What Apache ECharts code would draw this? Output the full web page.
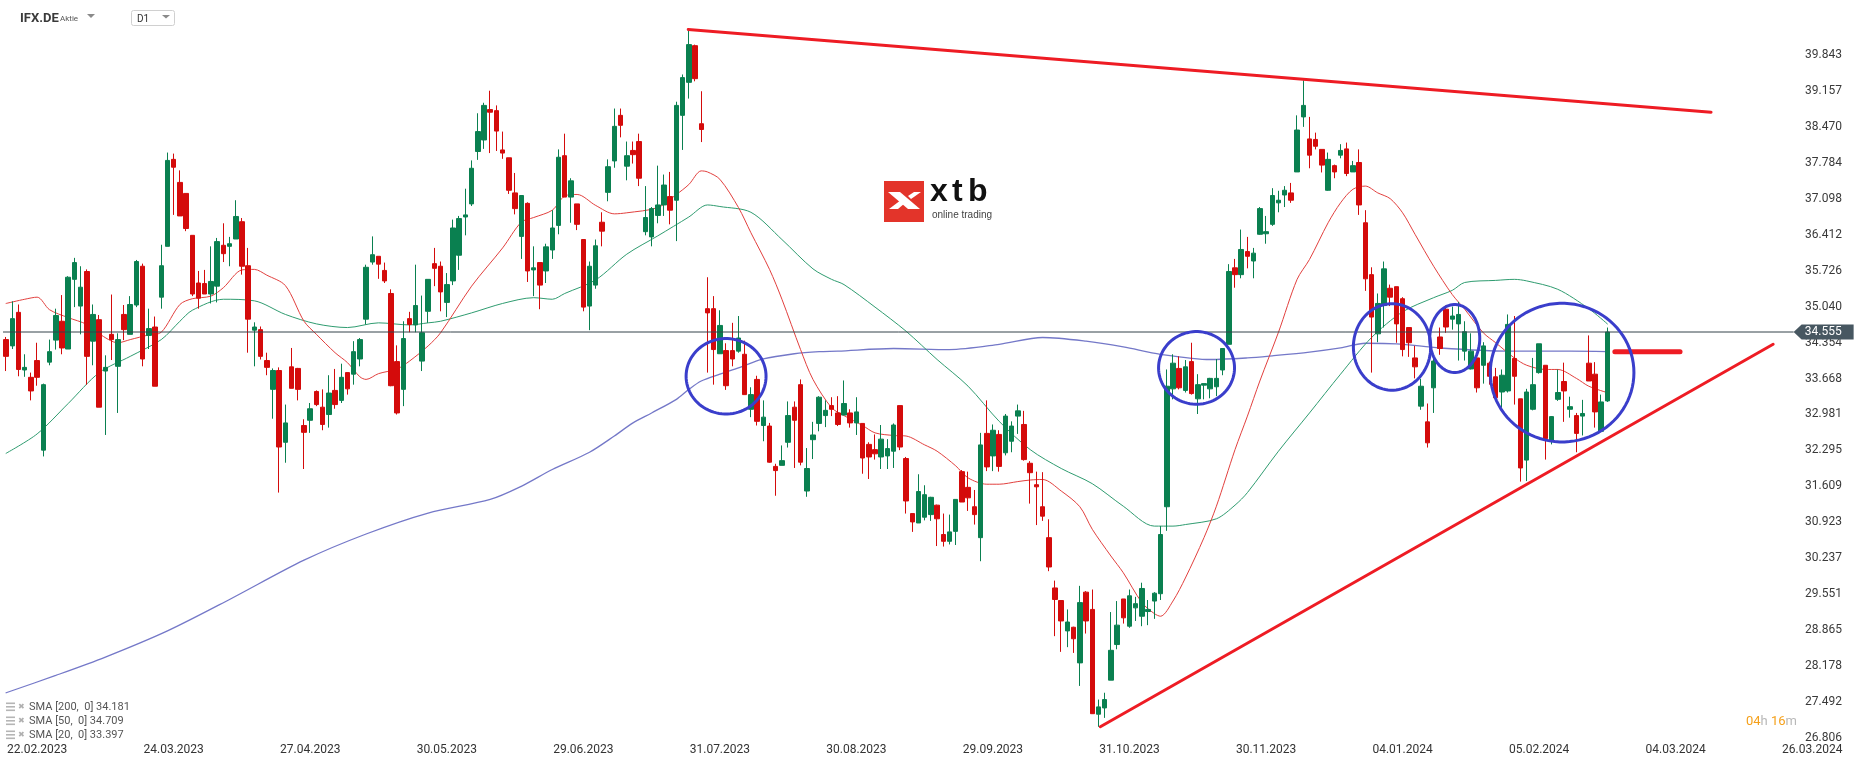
<!DOCTYPE html>
<html><head><meta charset="utf-8">
<script src="https://cdn.jsdelivr.net/npm/echarts@6/dist/echarts.min.js"></script>
<style>html,body{margin:0;padding:0;background:#fff}#c{width:1866px;height:767px}</style>
</head><body><div id="c"></div><script>
// ---------- DATA ----------
const symbolName = 'IFX.DE';
const startDate = '2023-02-15';
const holidays = ['2023-04-07','2023-04-10','2023-05-01','2023-12-25','2023-12-26','2024-01-01'];
const futureTicks = ['04.03.2024','26.03.2024'];
// [open, close, low, high]
const candles = [
[34.41,34.09,33.81,34.46],[34.29,34.81,34.23,35.14],[34.93,33.84,33.71,35.08],[33.83,33.88,33.70,34.13],[33.69,33.43,33.25,33.78],
[34.01,33.69,33.53,34.35],[32.30,33.55,32.18,33.57],[33.98,34.18,33.92,34.41],[34.40,34.87,34.22,35.00],[34.76,34.25,34.13,35.26],
[34.23,35.60,34.23,35.62],[35.56,35.88,35.03,35.97],[35.05,35.41,34.51,35.81],[35.71,34.09,33.55,35.75],[34.38,34.89,33.92,35.08],
[34.79,33.12,33.12,34.88],[33.81,33.88,32.59,34.11],[34.51,34.41,34.02,35.27],[33.90,34.41,33.01,34.53],[34.89,34.60,34.40,35.07],
[34.51,35.08,34.51,35.24],[35.07,35.90,35.03,35.93],[35.81,34.04,33.90,35.86],[34.49,34.62,34.23,35.00],[34.65,33.52,33.52,34.85],
[35.22,35.82,35.00,36.22],[36.19,37.83,36.19,37.98],[37.85,37.70,36.79,37.96],[37.41,36.77,36.77,37.64],[37.20,36.53,36.48,37.20],
[36.40,35.28,35.24,36.40],[35.49,35.20,35.00,35.72],[35.48,35.28,35.28,35.74],[35.28,35.52,35.10,36.19],[35.43,36.28,35.12,36.35],
[36.21,36.05,35.89,36.63],[36.19,36.24,35.81,36.37],[36.33,36.76,36.33,37.07],[36.66,35.81,35.65,36.73],[35.82,34.80,34.16,36.16],
[34.59,34.65,33.90,34.74],[34.60,34.09,34.03,34.66],[34.01,33.88,33.73,34.16],[33.46,33.82,32.90,33.86],[33.82,32.36,31.49,33.88],
[32.45,32.82,32.06,33.17],[33.89,33.48,33.48,34.25],[33.86,33.46,33.25,33.87],[32.77,32.64,31.94,32.89],[32.87,33.09,32.63,33.20],
[33.42,33.17,33.14,33.44],[33.12,32.79,32.68,33.46],[32.98,33.39,32.73,33.73],[33.44,33.17,33.09,33.85],[33.25,33.69,33.20,33.95],
[33.78,33.47,33.36,33.78],[33.75,34.18,33.55,34.38],[34.04,34.41,33.90,34.44],[34.80,35.79,34.70,35.84],[35.89,36.03,35.84,36.38],
[36.00,35.85,35.57,36.00],[35.73,35.53,35.49,35.88],[35.29,33.53,33.52,35.37],[33.99,33.01,32.98,34.30],[33.46,34.43,33.14,34.76],
[34.81,34.70,34.55,34.94],[34.69,35.06,34.55,35.84],[34.00,34.54,33.81,35.25],[34.95,35.56,34.73,35.56],[35.86,35.77,35.43,36.16],
[35.81,35.32,34.95,35.90],[35.12,35.46,34.84,35.68],[35.53,36.54,35.45,36.70],[36.02,36.72,35.74,36.77],[36.75,36.79,36.40,37.29],
[37.00,37.68,36.96,37.83],[38.00,38.38,37.84,38.73],[38.22,38.88,38.05,38.93],[38.80,38.75,37.97,39.16],[38.78,38.39,38.01,38.88],
[38.03,37.97,37.86,38.38],[37.88,37.26,37.19,37.88],[37.21,36.91,36.80,37.59],[36.38,37.16,35.95,37.16],[37.01,35.72,35.51,37.03],
[35.74,35.78,35.24,36.19],[35.88,35.45,34.99,35.88],[35.72,36.18,35.49,36.24],[36.12,36.54,35.95,36.88],[36.59,37.89,36.42,38.04],
[37.92,37.13,37.13,38.34],[37.13,37.44,36.64,37.49],[37.00,36.61,36.50,37.00],[36.32,35.03,34.95,36.32],[35.05,35.81,34.59,35.90],
[35.45,36.20,35.38,36.32],[36.65,36.48,36.19,36.84],[37.22,37.71,37.05,37.85],[37.82,38.48,37.69,38.82],[38.69,38.50,38.27,38.82],
[37.72,37.92,37.45,38.19],[38.02,37.94,37.77,38.19],[38.19,37.49,37.34,38.34],[36.47,36.74,36.40,37.34],[36.37,36.91,36.19,36.94],
[36.78,36.98,36.63,37.73],[36.98,37.36,36.77,37.56],[37.14,36.88,36.61,37.61],[37.07,38.88,36.29,38.95],[38.69,39.41,38.03,39.47],
[39.32,40.04,39.01,40.33],[40.02,39.39,39.34,40.04],[38.53,38.42,38.18,39.15],[35.00,34.92,33.78,35.60],[35.00,34.22,33.55,35.24],
[34.14,34.68,34.14,34.97],[34.20,33.53,33.45,34.34],[34.20,34.04,33.90,34.73],[34.19,34.44,34.16,34.86],[34.13,33.36,33.36,34.39],
[33.08,33.36,32.93,33.50],[33.65,32.85,32.77,33.72],[32.77,32.93,32.47,33.25],[32.76,32.07,32.06,32.82],[31.99,31.91,31.43,32.04],
[32.01,32.10,32.01,32.39],[32.45,32.96,32.35,33.23],[33.12,32.87,31.96,33.23],[33.55,32.07,32.01,33.65],[31.52,31.95,31.41,32.34],
[32.50,32.59,32.13,32.84],[32.81,33.31,32.66,33.33],[32.96,33.06,32.74,33.25],[33.15,33.08,32.95,33.31],[33.01,32.79,32.76,33.33],
[32.97,33.19,32.97,33.63],[33.01,32.82,32.73,33.08],[32.82,33.03,32.59,33.31],[32.81,32.15,31.85,32.81],[32.41,32.17,31.75,32.45],
[32.31,32.23,32.12,32.60],[32.17,32.51,31.94,32.78],[32.19,32.33,31.94,32.51],[32.28,32.78,31.96,32.81],[33.15,32.36,32.30,33.15],
[32.14,31.33,31.09,32.17],[31.09,30.93,30.74,31.09],[30.91,31.51,30.91,31.84],[31.02,31.45,30.96,31.63],[31.07,31.40,30.95,31.41],
[31.25,30.99,30.47,31.26],[30.69,30.56,30.46,31.09],[30.56,30.74,30.50,31.07],[30.75,31.36,30.49,31.36],[31.89,31.31,31.31,31.92],
[31.59,31.39,31.14,31.89],[31.22,31.07,30.88,31.54],[30.63,32.40,30.18,32.63],[32.62,31.98,31.90,33.25],[32.19,32.68,31.90,32.79],
[32.60,31.99,31.89,32.68],[32.25,32.95,32.20,32.99],[32.47,32.76,32.26,32.85],[32.95,33.05,32.61,33.17],[32.79,32.12,32.10,33.05],
[32.05,31.87,31.28,32.09],[31.64,31.60,30.87,31.89],[31.22,31.04,30.95,31.88],[30.63,30.07,29.99,30.98],[29.67,29.45,28.75,29.81],
[29.43,29.04,28.45,29.43],[28.85,29.02,28.54,29.26],[28.92,28.70,28.43,28.93],[28.24,29.39,27.80,29.71],[29.59,29.04,28.80,29.61],
[29.26,27.27,27.27,29.64],[27.26,27.40,27.02,27.54],[27.38,27.54,27.19,27.67],[27.91,28.48,27.91,29.21],[28.59,28.96,28.50,29.42],
[29.46,29.10,28.99,29.46],[28.94,29.52,28.91,29.64],[29.29,29.37,29.04,29.50],[29.13,29.66,28.94,29.77],[29.22,29.26,28.96,29.44],
[29.42,29.57,29.08,29.59],[29.56,30.69,29.44,30.85],[31.22,33.52,30.76,33.84],[33.47,33.96,33.27,34.13],[33.86,33.49,33.46,34.09],
[33.44,33.89,33.40,34.02],[33.99,33.38,33.36,34.35],[33.28,33.55,32.99,33.75],[33.54,33.57,33.27,33.57],[33.47,33.67,33.29,33.68],
[33.51,33.67,33.33,34.04],[33.83,34.24,33.73,34.24],[34.32,35.71,34.32,35.85],[35.78,35.65,35.40,35.95],[35.65,36.13,35.58,36.51],
[36.09,36.00,35.77,36.37],[35.91,36.06,35.58,36.16],[36.42,36.91,36.41,36.94],[36.43,36.47,36.24,36.77],[36.61,37.16,36.58,37.30],
[37.02,37.07,36.84,37.25],[37.17,37.26,36.94,37.34],[37.21,37.07,37.02,37.40],[37.61,38.41,37.61,38.69],[38.66,38.88,38.47,39.36],
[38.24,37.93,37.68,38.66],[38.23,38.10,38.04,38.36],[38.04,37.74,37.60,38.04],[37.26,37.85,37.25,37.98],[37.73,37.61,37.49,37.75],
[37.93,38.02,37.87,38.14],[38.05,37.58,37.53,38.17],[37.61,37.73,37.61,37.82],[37.79,36.98,36.79,38.04],[36.64,35.57,35.34,36.88],
[35.65,34.84,33.78,35.79],[34.52,35.10,34.36,35.29],[35.06,35.76,34.64,35.90],[35.39,35.22,35.05,35.46],[35.42,34.71,34.35,35.42],
[35.19,34.22,34.09,35.22],[34.64,34.35,34.08,34.64],[34.06,33.89,33.67,34.29],[33.14,33.52,33.07,33.66],[32.84,32.44,32.35,33.19],
[33.49,34.00,33.01,34.10],[34.46,34.24,34.12,34.64],[34.99,34.65,34.54,35.06],[34.80,34.86,34.60,35.04],[34.71,34.89,34.01,35.13],
[34.19,34.56,34.01,34.76],[33.85,34.19,33.84,34.53],[34.06,33.49,33.40,34.06],[33.92,34.29,33.57,34.36],[33.96,33.71,33.55,33.99],
[33.70,33.30,33.27,33.87],[33.41,33.73,33.11,33.84],[33.43,34.70,33.40,34.89],[34.05,33.71,33.17,34.86],[33.28,31.96,31.70,33.28],
[32.11,33.41,31.71,33.47],[33.08,33.55,33.06,34.06],[33.78,34.33,33.76,34.33],[33.92,32.52,32.12,33.92],[32.49,32.94,32.41,32.95],
[33.27,33.40,33.24,33.84],[33.61,33.43,32.84,33.97],[33.08,33.13,32.92,33.32],[32.96,32.62,32.26,33.01],[32.95,33.00,32.58,33.26],
[33.96,33.62,33.62,34.49],[33.75,33.03,32.73,33.98],[32.66,33.22,32.66,33.36],[33.24,34.555,33.22,34.64]
];
// moving averages: [bar index, value]
const sma20 = [[0,35.10],[3,35.18],[5,35.22],[7,34.98],[10,34.83],[13,34.70],[15,34.52],[18,34.35],[20,34.41],[23,34.50],[25,34.55],[28,35.08],[30,35.19],[33,35.24],[35,35.40],[38,35.74],[40,35.75],[42,35.64],[45,35.44],[48,34.76],[50,34.51],[53,34.16],[55,33.97],[57,33.70],[58,33.65],[60,33.76],[63,33.85],[65,34.00],[68,34.29],[70,34.54],[75,35.43],[80,36.16],[83,36.65],[85,36.74],[88,36.88],[90,37.15],[92,37.18],[95,36.97],[98,36.81],[100,36.83],[105,36.93],[108,37.18],[110,37.37],[112,37.63],[113,37.61],[115,37.47],[118,36.93],[120,36.45],[123,35.75],[125,35.18],[128,34.22],[130,33.65],[133,33.11],[135,32.96],[138,32.77],[140,32.63],[143,32.58],[145,32.57],[148,32.40],[150,32.28],[153,32.00],[155,31.77],[158,31.65],[160,31.65],[163,31.70],[165,31.73],[167,31.74],[170,31.52],[173,31.22],[175,30.79],[178,30.28],[180,29.96],[183,29.39],[185,29.18],[186,29.13],[188,29.42],[190,29.86],[193,30.63],[195,31.23],[198,32.31],[200,32.95],[202,33.62],[205,34.55],[208,35.56],[210,35.94],[213,36.64],[215,37.02],[217,37.28],[219,37.34],[221,37.21],[223,37.10],[225,36.83],[227,36.42],[230,35.81],[233,35.27],[235,34.99],[238,34.54],[240,34.35],[243,34.06],[245,33.92],[248,33.84],[250,33.84],[253,33.67],[255,33.52],[258,33.397]];
const sma50 = [[0,32.24],[5,32.61],[10,33.19],[15,33.78],[20,34.09],[25,34.41],[28,34.76],[30,34.97],[35,35.18],[40,35.15],[45,34.89],[50,34.71],[55,34.64],[60,34.73],[65,34.69],[68,34.73],[70,34.76],[75,34.92],[80,35.10],[85,35.21],[88,35.18],[90,35.29],[95,35.55],[100,36.04],[105,36.39],[110,36.75],[113,36.98],[115,36.95],[120,36.84],[125,36.32],[130,35.76],[133,35.56],[135,35.46],[140,35.03],[145,34.57],[150,34.03],[155,33.52],[160,32.85],[165,32.31],[170,31.95],[175,31.66],[180,31.23],[185,30.85],[188,30.85],[190,30.88],[195,30.99],[198,31.25],[200,31.49],[205,32.28],[210,33.01],[215,33.75],[220,34.45],[225,34.94],[230,35.21],[233,35.35],[235,35.50],[240,35.54],[243,35.56],[245,35.53],[250,35.37],[255,35.00],[258,34.709]];
const sma200 = [[0,27.67],[8,28.00],[16,28.35],[26,28.85],[36,29.45],[48,30.20],[58,30.70],[68,31.10],[78,31.36],[83,31.61],[88,31.93],[94,32.26],[98,32.57],[101,32.82],[104,33.01],[108,33.27],[110,33.46],[112,33.62],[115,33.75],[118,33.87],[122,34.04],[127,34.14],[131,34.18],[134,34.19],[143,34.24],[152,34.22],[160,34.32],[167,34.45],[174,34.38],[180,34.27],[186,34.13],[194,34.03],[200,34.06],[204,34.10],[210,34.17],[215,34.25],[219,34.34],[224,34.33],[231,34.25],[242,34.19],[252,34.19],[258,34.181]];
const smaLegend = ['SMA [200,  0] 34.181','SMA [50,  0] 34.709','SMA [20,  0] 33.397'];
const lastPrice = 34.555;
// drawn annotations, in [bar index, price]
const resistanceLine = [[109.9,40.33],[274.7,38.75]];
const supportLine = [[176.3,27.02],[284.7,34.32]];
const levelLine = [[259.2,34.18],[269.7,34.18]];
// ellipses: [center bar, center price, radius bars, radius price]
const circles = [[116.0,33.71,6.44,0.72],[191.8,33.87,6.12,0.693],[223.3,34.27,6.23,0.825],[233.4,34.43,4.03,0.649],[250.7,33.78,11.57,1.323]];
// y-axis ticks
const yTickStart = 26.80618, yTickStep = 0.686135, yTickCount = 20;

// ---------- BUILD ----------
const N_SLOTS = 300, LABEL_FIRST = 5, LABEL_STEP = 22;
function tradingDays(start, n) {
  const out = []; const d = new Date(start + 'T12:00:00Z');
  while (out.length < n) {
    const dow = d.getUTCDay(); const iso = d.toISOString().slice(0, 10);
    if (dow !== 0 && dow !== 6 && holidays.indexOf(iso) < 0)
      out.push(iso.slice(8, 10) + '.' + iso.slice(5, 7) + '.' + iso.slice(0, 4));
    d.setUTCDate(d.getUTCDate() + 1);
  }
  return out;
}
const realDates = tradingDays(startDate, candles.length);
const categories = []; let ft = 0;
for (let i = 0; i < N_SLOTS; i++) {
  if (i < realDates.length) categories.push(realDates[i]);
  else if ((i - LABEL_FIRST) % LABEL_STEP === 0 && ft < futureTicks.length) categories.push(futureTicks[ft++]);
  else categories.push('slot' + i);
}
const priceLineEnd = 288;
const GREEN = '#0a8050', RED = '#d40b0b', TREND = '#ee1c24';
const FONT = 'Roboto, "Noto Sans", sans-serif';
const LOGO_FONT = '"Liberation Sans", Arial, sans-serif';

const chart = echarts.init(document.getElementById('c'), null, {renderer: 'canvas'});
function legendGraphic() {
  const els = [];
  const ys = [707, 721, 735];
  smaLegend.forEach((t, k) => {
    const y = ys[k];
    for (let j = 0; j < 3; j++) els.push({type: 'rect', shape: {x: 6, y: y - 4.5 + j * 3.5, width: 9, height: 1.6}, style: {fill: '#b5b5b5'}});
    els.push({type: 'text', style: {text: '✖', x: 18, y: y, fontSize: 8, fill: '#b0b0b0', verticalAlign: 'middle', fontFamily: 'DejaVu Sans'}});
    els.push({type: 'text', style: {text: t, x: 29, y: y, fontSize: 11, fill: '#555', verticalAlign: 'middle', fontFamily: FONT}});
  });
  return els;
}
const graphic = [
  {type: 'text', style: {text: symbolName, x: 20, y: 19, fontSize: 13, fontWeight: 'bold', fill: '#3a3a3a', verticalAlign: 'middle', fontFamily: FONT}},
  {type: 'text', style: {text: 'Aktie', x: 60, y: 19, fontSize: 8, fill: '#555', verticalAlign: 'middle', fontFamily: FONT}},
  {type: 'polygon', shape: {points: [[87, 14], [95, 14], [91, 18]]}, style: {fill: '#8a8a8a'}},
  {type: 'rect', shape: {x: 131.5, y: 10.5, width: 43, height: 15, r: 2}, style: {fill: '#fff', stroke: '#d0d0d0', lineWidth: 1}},
  {type: 'text', style: {text: 'D1', x: 137, y: 19, fontSize: 10, fill: '#333', verticalAlign: 'middle', fontFamily: FONT}},
  {type: 'polygon', shape: {points: [[162, 15], [170, 15], [166, 18.5]]}, style: {fill: '#8a8a8a'}},
  // logo
  {type: 'rect', shape: {x: 884, y: 181, width: 40, height: 41}, style: {fill: '#e3342a'}},
  {type: 'polygon', shape: {points: [[888, 192], [900, 192], [920, 209], [908, 209]]}, style: {fill: '#fff'}},
  {type: 'polygon', shape: {points: [[889, 209], [901, 200], [905, 203], [898, 209]]}, style: {fill: '#fff'}},
  {type: 'polygon', shape: {points: [[908, 196], [914, 192], [921, 192], [911, 199]]}, style: {fill: '#fff'}},
  {type: 'text', style: {text: 'x', x: 930, y: 208, fontSize: 32, fontWeight: 'bold', fill: '#111', verticalAlign: 'bottom', fontFamily: LOGO_FONT}},
  {type: 'text', style: {text: 't', x: 952, y: 208, fontSize: 32, fontWeight: 'bold', fill: '#111', verticalAlign: 'bottom', fontFamily: LOGO_FONT}},
  {type: 'text', style: {text: 'b', x: 968, y: 208, fontSize: 32, fontWeight: 'bold', fill: '#111', verticalAlign: 'bottom', fontFamily: LOGO_FONT}},
  {type: 'text', style: {text: 'online trading', x: 932, y: 215, fontSize: 10, fill: '#444', verticalAlign: 'middle', fontFamily: LOGO_FONT}},
  // timer
  {type: 'text', style: {text: '{o|04}{g|h} {o|16}{g|m}', x: 1797, y: 722, align: 'right', verticalAlign: 'middle',
    rich: {o: {fontSize: 13, fill: '#f5a01a', fontFamily: FONT}, g: {fontSize: 13, fill: '#b8b8b8', fontFamily: FONT}}}}
].concat(legendGraphic());

function lineSeries(data, color, width, extra) {
  return Object.assign({type: 'line', data: data, showSymbol: false, symbol: 'none', silent: true,
    lineStyle: {color: color, width: width, cap: 'round'}, animation: false}, extra || {});
}
const option = {
  animation: false,
  backgroundColor: '#fff',
  grid: {left: 3, right: 1, top: 19, bottom: 29, containLabel: false},
  xAxis: [
    {type: 'category', data: categories, boundaryGap: true,
      axisLine: {show: false}, axisTick: {show: false}, splitLine: {show: false},
      axisLabel: {interval: (i) => i >= LABEL_FIRST && (i - LABEL_FIRST) % LABEL_STEP === 0, margin: 6,
        fontSize: 12, color: '#333', fontFamily: FONT, hideOverlap: false}},
    {type: 'value', min: -0.5, max: N_SLOTS - 0.5, show: false}
  ],
  yAxis: {type: 'value', position: 'right', min: yTickStart, max: yTickStart + yTickCount * yTickStep, interval: yTickStep,
    scale: true, axisLine: {show: false}, axisTick: {show: false}, splitLine: {show: false},
    axisLabel: {inside: true, margin: 23, fontSize: 12, color: '#3a3a3a', fontFamily: FONT, showMaxLabel: false,
      formatter: (v) => v.toFixed(3)}},
  graphic: graphic,
  series: [
    lineSeries(sma200, 'rgba(92,96,190,0.85)', 1.3, {smooth: 0.3, z: 1}),
    lineSeries(sma50, '#2f9c70', 1, {smooth: 0.3, z: 1}),
    lineSeries(sma20, '#e2403e', 1, {smooth: 0.3, z: 1}),
    {type: 'candlestick', data: candles, barWidth: 5, z: 3,
      itemStyle: {color: GREEN, color0: RED, borderColor: GREEN, borderColor0: RED, borderColorDoji: GREEN, borderWidth: 1}},
    lineSeries([[-0.5, lastPrice], [priceLineEnd, lastPrice]], '#34424a', 1, {xAxisIndex: 1, z: 4, lineStyle: {color: '#34424a', width: 1}}),
    lineSeries(resistanceLine, TREND, 3, {xAxisIndex: 1, z: 6}),
    lineSeries(supportLine, TREND, 3, {xAxisIndex: 1, z: 6}),
    lineSeries(levelLine, TREND, 5, {xAxisIndex: 1, z: 6}),
    {type: 'custom', xAxisIndex: 1, data: circles, z: 7, silent: true,
      renderItem: (p, api) => {
        const c = api.coord([api.value(0), api.value(1)]);
        const s = api.size([api.value(2), api.value(3)]);
        const pts = [];
        for (let k = 0; k < 90; k++) { const a = k / 90 * Math.PI * 2; pts.push([c[0] + s[0] * Math.cos(a), c[1] + s[1] * Math.sin(a)]); }
        return {type: 'polygon', shape: {points: pts}, style: {fill: 'none', stroke: '#3a3ecb', lineWidth: 3}};
      }},
    {type: 'custom', xAxisIndex: 1, data: [[priceLineEnd, lastPrice]], z: 20, silent: true, clip: false,
      renderItem: (p, api) => {
        const c = api.coord([api.value(0), api.value(1)]);
        const x = c[0], y = c[1], h = 15;
        return {type: 'group', children: [
          {type: 'polygon', shape: {points: [[x, y], [x + 8, y - h / 2], [x + 60, y - h / 2], [x + 60, y + h / 2], [x + 8, y + h / 2]]}, style: {fill: '#475761'}},
          {type: 'text', style: {text: lastPrice.toFixed(3), x: x + 48, y: y, align: 'right', verticalAlign: 'middle', fontSize: 12, fill: '#fff', fontFamily: FONT}}
        ]};
      }}
  ]
};
chart.setOption(option);
</script></body></html>
